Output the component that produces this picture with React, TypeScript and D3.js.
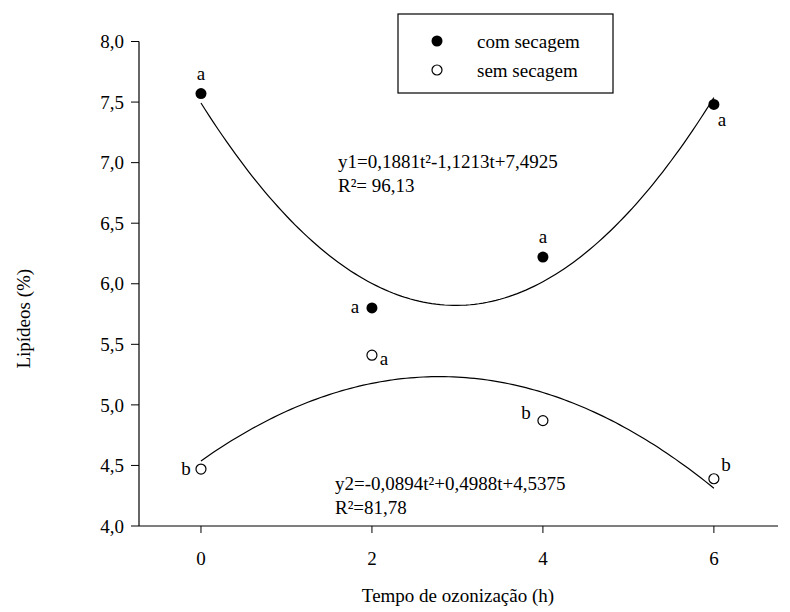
import React from 'react'
import * as d3 from 'd3'

// tempo de ozonização (h)
const tempos = [0, 2, 4, 6]
const comSecagem = [7.57, 5.80, 6.22, 7.48]
const semSecagem = [4.47, 5.41, 4.87, 4.39]
const letrasCom = ['a', 'a', 'a', 'a']
const letrasSem = ['b', 'a', 'b', 'b']
// coeficientes das regressões (a t² + b t + c)
const coefCom = [0.1881, -1.1213, 7.4925]
const coefSem = [-0.0894, 0.4988, 4.5375]
const yTicks = [4.0, 4.5, 5.0, 5.5, 6.0, 6.5, 7.0, 7.5, 8.0]
const xTicks = [0, 2, 4, 6]

const W = 790
const H = 612
const font = 'Liberation Serif'

// label offsets relative to the point [dx, dy]
const offCom = [[0, -14], [-17, 5], [0, -14], [8, 22]]
const offSem = [[-15, 6], [12, 10], [-17, -2], [12, -8]]

const fmt = (v: number) => v.toFixed(1).replace('.', ',')

const App = () => {
  const x = d3.scaleLinear().domain([-0.725, 6.75]).range([139, 778])
  const y = d3.scaleLinear().domain([4, 8]).range([526, 41.5])

  const curve = (c: number[]) => {
    const ts = d3.range(0, 6.0001, 0.05)
    const line = d3.line<number>()
      .x(t => x(t))
      .y(t => y(c[0] * t * t + c[1] * t + c[2]))
    return line(ts) || ''
  }

  const txt = {fontFamily: font, fontSize: 19}

  return (
    <svg width={W} height={H} style={{position: 'absolute', left: 0, top: 0}}>
      <rect width={W} height={H} fill="#fff" />

      {/* eixos */}
      <line x1={x.range()[0]} x2={x.range()[0]} y1={y(8)} y2={y(4)} stroke="#000" strokeWidth={1.2} />
      <line x1={x.range()[0]} x2={x.range()[1]} y1={y(4)} y2={y(4)} stroke="#000" strokeWidth={1.2} />

      {yTicks.map(v => (
        <g key={v}>
          <line x1={x.range()[0] - 8} x2={x.range()[0]} y1={y(v)} y2={y(v)} stroke="#000" />
          <text x={x.range()[0] - 15} y={y(v)} dy="0.35em" textAnchor="end" style={txt}>{fmt(v)}</text>
        </g>
      ))}
      {xTicks.map(v => (
        <g key={v}>
          <line x1={x(v)} x2={x(v)} y1={y(4)} y2={y(4) + 7} stroke="#000" />
          <text x={x(v)} y={565} textAnchor="middle" style={txt}>{v}</text>
        </g>
      ))}

      <text x={458} y={602} textAnchor="middle" style={txt}>Tempo de ozonização (h)</text>
      <text transform={`translate(30,${y(6) + 35}) rotate(-90)`} textAnchor="middle" style={txt}>Lipídeos (%)</text>

      {/* curvas ajustadas */}
      <path d={curve(coefCom)} fill="none" stroke="#000" strokeWidth={1.2} />
      <path d={curve(coefSem)} fill="none" stroke="#000" strokeWidth={1.2} />

      {tempos.map((t, i) => (
        <g key={'c' + t}>
          <circle cx={x(t)} cy={y(comSecagem[i])} r={5.5} fill="#000" />
          <text x={x(t) + offCom[i][0]} y={y(comSecagem[i]) + offCom[i][1]} textAnchor="middle" style={txt}>{letrasCom[i]}</text>
        </g>
      ))}
      {tempos.map((t, i) => (
        <g key={'s' + t}>
          <circle cx={x(t)} cy={y(semSecagem[i])} r={5} fill="#fff" stroke="#000" strokeWidth={1.2} />
          <text x={x(t) + offSem[i][0]} y={y(semSecagem[i]) + offSem[i][1]} textAnchor="middle" style={txt}>{letrasSem[i]}</text>
        </g>
      ))}

      {/* equações */}
      <text x={338} y={168} style={txt}>y1=0,1881t²-1,1213t+7,4925</text>
      <text x={338} y={192} style={txt}>R²= 96,13</text>
      <text x={335} y={490} style={txt}>y2=-0,0894t²+0,4988t+4,5375</text>
      <text x={335} y={514} style={txt}>R²=81,78</text>

      {/* legenda */}
      <rect x={398} y={14} width={215} height={79} fill="#fff" stroke="#000" strokeWidth={1.2} />
      <circle cx={437} cy={41} r={5.5} fill="#000" />
      <circle cx={437} cy={70} r={5} fill="#fff" stroke="#000" strokeWidth={1.2} />
      <text x={477} y={41} dy="0.35em" style={txt}>com secagem</text>
      <text x={477} y={70} dy="0.35em" style={txt}>sem secagem</text>
    </svg>
  )
}

export default App
